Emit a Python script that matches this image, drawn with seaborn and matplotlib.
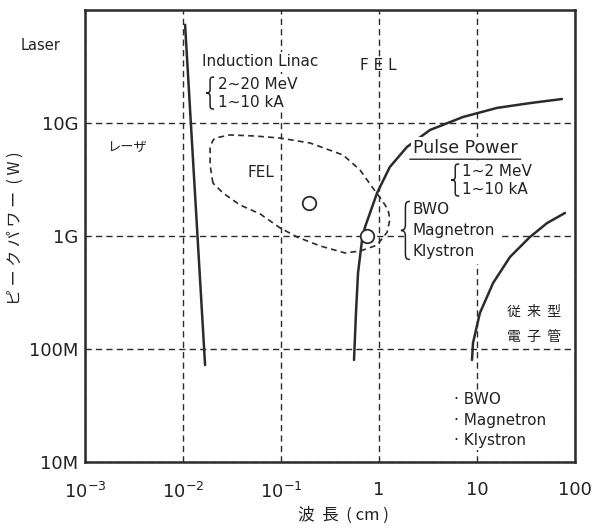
import matplotlib
matplotlib.use("Agg")
import matplotlib.pyplot as plt
import seaborn as sns
from matplotlib.ticker import LogLocator, NullFormatter
from matplotlib.path import Path
from matplotlib.patches import PathPatch
from matplotlib.transforms import Affine2D

# ---- data: wavelength (cm) vs. peak power (W) ----
laser_wl = [0.0105, 0.0168]
laser_pw = [7.4e10, 7.2e7]

fel_wl = [0.0202, 0.0189, 0.0189, 0.0200, 0.0212, 0.0302, 0.0543, 0.0977, 0.198,
          0.430, 0.640, 0.849, 1.07, 1.24, 1.29, 1.21, 0.955, 0.640, 0.450,
          0.250, 0.146, 0.0977, 0.0611, 0.0382, 0.0256, 0.0202]
fel_pw = [2.94e9, 4.25e9, 6.0e9, 6.9e9, 7.36e9, 7.84e9, 7.67e9, 7.36e9, 6.65e9,
          5.21e9, 3.84e9, 2.72e9, 2.08e9, 1.70e9, 1.39e9, 1.08e9, 8.3e8, 7.36e8, 7.08e8,
          8.17e8, 9.8e8, 1.18e9, 1.57e9, 1.88e9, 2.40e9, 2.94e9]

pulse_wl = [0.556, 0.582, 0.611, 0.671, 0.720, 0.955, 1.29, 1.93, 3.31, 7.19, 16.0, 34.7, 73.6]
pulse_pw = [8.0e7, 2.08e8, 4.71e8, 9.2e8, 1.20e9, 2.40e9, 4.08e9, 6.14e9, 8.67e9,
            1.13e10, 1.36e10, 1.50e10, 1.63e10]

tube_wl = [8.89, 9.10, 10.7, 14.6, 21.7, 34.7, 51.8, 79.1]
tube_pw = [8.0e7, 1.13e8, 2.08e8, 3.84e8, 6.52e8, 9.8e8, 1.30e9, 1.60e9]

point_wl = [0.193, 0.76]
point_pw = [1.96e9, 1.0e9]

x_ticks = [1e-3, 1e-2, 1e-1, 1, 10, 100]
x_labels = [r"$10^{-3}$", r"$10^{-2}$", r"$10^{-1}$", "1", "10", "100"]
y_ticks = [1e7, 1e8, 1e9, 1e10]
y_labels = ["10M", "100M", "1G", "10G"]

# ---- style ----
sns.set_style("white")
plt.rcParams["font.family"] = ["DejaVu Sans"]
plt.rcParams["mathtext.fontset"] = "dejavusans"
JP = ["Noto Sans CJK JP", "DejaVu Sans"]
INK = "#2b2b2b"
TXT = "#222222"

fig = plt.figure(figsize=(5.92, 5.29), dpi=100)
ax = fig.add_axes([85 / 592, 67 / 529, 490 / 592, 452 / 529])
ax.set(xscale="log", yscale="log")
ax.set_xlim(1e-3, 100)
ax.set_ylim(1e7, 1e11)

# curves
sns.lineplot(x=laser_wl, y=laser_pw, sort=False, estimator=None, ax=ax, color=INK, lw=1.8)
sns.lineplot(x=pulse_wl, y=pulse_pw, sort=False, estimator=None, ax=ax, color=INK, lw=1.8)
sns.lineplot(x=tube_wl, y=tube_pw, sort=False, estimator=None, ax=ax, color=INK, lw=1.8)
sns.lineplot(x=fel_wl, y=fel_pw, sort=False, estimator=None, ax=ax, color=INK, lw=1.2,
             linestyle=(0, (3.5, 2.5)))
sns.scatterplot(x=point_wl, y=point_pw, ax=ax, marker="o", s=95, facecolor="white",
                edgecolor=INK, linewidth=1.3, zorder=5)

# grid, ticks, spines
ax.set_axisbelow(True)
ax.grid(which="major", color=INK, lw=1.0, linestyle=(0, (4.5, 3)))
ax.grid(which="minor", visible=False)
ax.set_xticks(x_ticks)
ax.set_xticklabels(x_labels)
ax.set_yticks(y_ticks)
ax.set_yticklabels(y_labels)
for axis in (ax.xaxis, ax.yaxis):
    axis.set_minor_locator(LogLocator(base=10, subs=range(2, 10), numticks=20))
    axis.set_minor_formatter(NullFormatter())
ax.tick_params(which="both", direction="in", top=False, right=False, color=INK)
ax.tick_params(which="major", length=7, width=1.2)
ax.tick_params(which="minor", length=4, width=1.2)
ax.tick_params(axis="x", which="major", pad=14, labelsize=13, labelcolor=TXT)
ax.tick_params(axis="y", which="major", pad=5, labelsize=13, labelcolor=TXT)
for sp in ax.spines.values():
    sp.set_color(INK)
    sp.set_linewidth(1.8)

ax.set_xlabel("波  長  ( cm )", family=JP, fontsize=12, color=TXT)
ax.xaxis.set_label_coords(0.527, -0.098)
ax.set_ylabel("ピ ー ク パ ワ ー  ( W )", family=JP, fontsize=11.5, color=TXT)
ax.yaxis.set_label_coords(-0.125, 0.518)

# outline of a curly brace: tip at x=0, arms end at x=1, spanning y in [-1, 1]
_BRACE = Path(
    [(1, 1), (0.55, 1), (0.5, 0.95), (0.5, 0.75),
     (0.5, 0.2),
     (0.5, 0.05), (0.3, 0), (0, 0),
     (0.3, 0), (0.5, -0.05), (0.5, -0.2),
     (0.5, -0.75),
     (0.5, -0.95), (0.55, -1), (1, -1)],
    [Path.MOVETO, Path.CURVE4, Path.CURVE4, Path.CURVE4,
     Path.LINETO,
     Path.CURVE4, Path.CURVE4, Path.CURVE4,
     Path.CURVE4, Path.CURVE4, Path.CURVE4,
     Path.LINETO,
     Path.CURVE4, Path.CURVE4, Path.CURVE4])


def brace(x, y, height_px, width_px):
    """Draw a thin '{' centred on data point (x, y)."""
    cx, cy = ax.transData.transform((x, y))
    tr = (Affine2D().translate(-0.5, 0)
          .scale(width_px, height_px / 2)
          .translate(cx, cy))
    fig.add_artist(PathPatch(_BRACE, transform=tr, facecolor="none", edgecolor=TXT,
                             lw=1.1, zorder=4))


# annotations
box = dict(facecolor="white", edgecolor="none", pad=1.5)
txt = dict(color=TXT, family="DejaVu Sans")

ax.text(3.56e-4, 4.9e10, "Laser", fontsize=10.5, ha="center", va="center", clip_on=False, **txt)
ax.text(2.68e-3, 6.1e9, "レーザ", fontsize=9.5, ha="center", va="center", color=TXT,
        family=JP, style="italic")

ax.text(0.0156, 3.47e10, "Induction Linac", fontsize=11, ha="left", va="center", bbox=box, **txt)
ax.text(0.0228, 1.84e10, "2~20 MeV\n1~10 kA", fontsize=11, ha="left", va="center",
        linespacing=1.25, bbox=box, **txt)

ax.text(0.977, 3.26e10, "F E L", fontsize=11, ha="center", va="center", **txt)
ax.text(0.0625, 3.68e9, "FEL", fontsize=11, ha="center", va="center", **txt)

pp = ax.text(2.22, 6.0e9, "Pulse Power", fontsize=12.5, ha="left", va="center", bbox=box, **txt)
ax.annotate("", xy=(-0.03, -0.12), xycoords=pp, xytext=(1.03, -0.12), textcoords=pp,
            arrowprops=dict(arrowstyle="-", color=INK, lw=1.0, shrinkA=0, shrinkB=0))
ax.text(7.03, 3.13e9, "1~2 MeV\n1~10 kA", fontsize=11, ha="left", va="center",
        linespacing=1.25, bbox=box, **txt)

ax.text(2.22, 1.11e9, "BWO\nMagnetron\nKlystron", fontsize=11, ha="left", va="center",
        linespacing=1.5, bbox=dict(boxstyle="square,pad=0.3", facecolor="white", edgecolor="none"),
        **txt)

ax.text(38.2, 2.12e8, "従  来  型", fontsize=10, ha="center", va="center", color=TXT, family=JP)
ax.text(38.2, 1.25e8, "電  子  管", fontsize=10, ha="center", va="center", color=TXT, family=JP)

ax.text(5.8, 2.35e7, "· BWO\n· Magnetron\n· Klystron", fontsize=11, ha="left", va="center",
        linespacing=1.45, bbox=box, **txt)

fig.canvas.draw()
brace(0.0189, 1.84e10, 32, 8)
brace(6.0, 3.13e9, 32, 8)
brace(1.86, 1.12e9, 58, 9)

fig.savefig("out.png", dpi=100, facecolor="white")
